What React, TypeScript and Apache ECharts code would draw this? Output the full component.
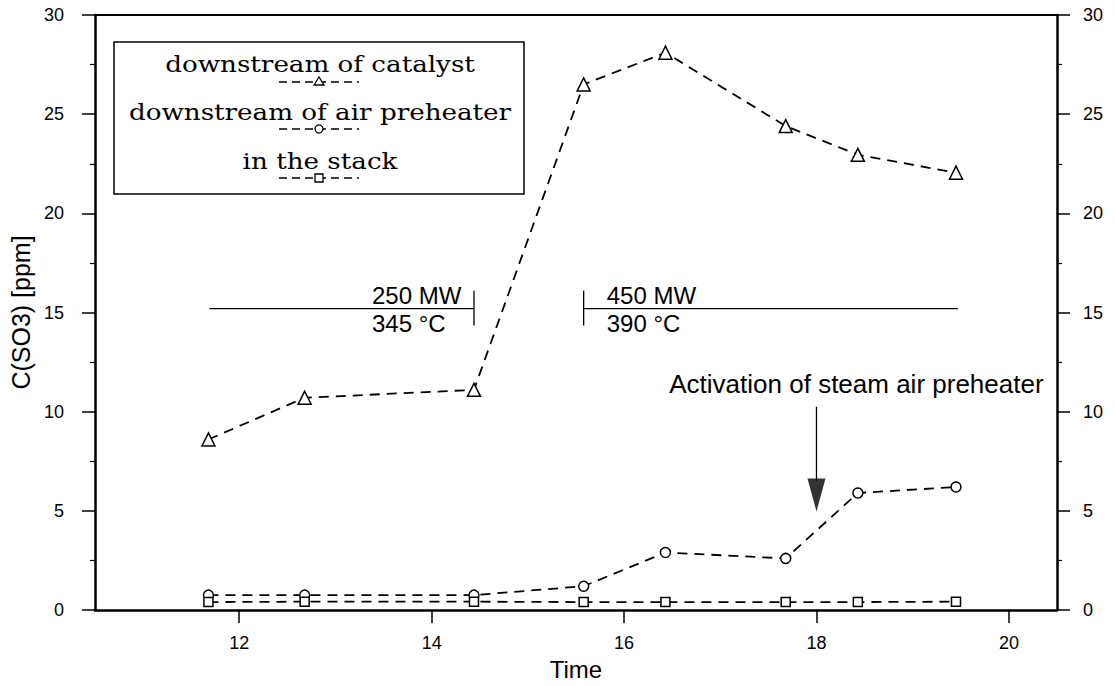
import React, { useEffect, useRef } from "react";
import * as echarts from "echarts";

// ---- data ----
const timeValues = [11.68, 12.68, 14.44, 15.58, 16.43, 17.68, 18.43, 19.45];
const catalyst = [8.6, 10.7, 11.1, 26.5, 28.1, 24.4, 22.95, 22.05];
const airPreheater = [0.75, 0.75, 0.75, 1.2, 2.9, 2.6, 5.9, 6.2];
const stack = [0.4, 0.42, 0.42, 0.4, 0.4, 0.4, 0.4, 0.42];

const xTicks = [12, 14, 16, 18, 20];
const seriesNames = ["downstream of catalyst", "downstream of air preheater", "in the stack"];

// annotation segments (data coordinates)
const load250Line = [[11.69, 15.2], [14.44, 15.2]];
const load250Tick = [[14.44, 14.35], [14.44, 16.1]];
const load450Tick = [[15.58, 14.35], [15.58, 16.1]];
const load450Line = [[15.58, 15.2], [19.47, 15.2]];
const arrowShaft = [[18.0, 10.25], [18.0, 6.5]];
const arrowHead = [[18.0, 5.8]];

// annotation texts: [text, x, y, align, verticalAlign, fontSize]
const annotations: [string, number, number, string, string, number][] = [
  ["250 MW", 13.38, 15.2, "left", "bottom", 24],
  ["345 °C", 13.38, 15.2, "left", "top", 24],
  ["450 MW", 15.82, 15.2, "left", "bottom", 24],
  ["390 °C", 15.82, 15.2, "left", "top", 24],
  ["Activation of steam air preheater", 16.47, 11.4, "left", "middle", 26],
];

const SANS = "'Liberation Sans', Arial, sans-serif";
const SERIF = "'DejaVu Serif', serif";

export default function App() {
  const ref = useRef<HTMLDivElement>(null);
  useEffect(() => {
    if (!ref.current) return;
    const chart = echarts.init(ref.current, null, { renderer: "svg" });

    const dashed = { color: "#000", width: 1.8, type: [10, 7] as any };
    const marker = { color: "#fff", borderColor: "#000", borderWidth: 1.5 };
    const solid = { color: "#000", width: 1.3, type: "solid" as any };

    const segment = (d: number[][]) => ({
      type: "line",
      data: d,
      symbol: "none",
      silent: true,
      lineStyle: solid,
      z: 2,
    });

    const yAxisCommon = (pos: "left" | "right", margin: number) => ({
      type: "value",
      position: pos,
      min: 0,
      max: 30,
      interval: 5,
      axisLine: { show: true, onZero: false, lineStyle: { color: "#000", width: 2.5 } },
      axisTick: { show: true, length: 13, lineStyle: { color: "#000", width: 1.5 } },
      minorTick: { show: true, splitNumber: 2, length: 5, lineStyle: { color: "#000", width: 1.2 } },
      axisLabel: { margin, fontSize: 18, color: "#000", fontFamily: SANS },
      splitLine: { show: false },
    });

    const option: any = {
      animation: false,
      backgroundColor: "#fff",
      grid: { left: 88, right: 58, top: 15, bottom: 74, containLabel: false },
      xAxis: [
        {
          type: "value",
          min: 10.5,
          max: 20.5,
          position: "bottom",
          axisLine: { show: true, onZero: false, lineStyle: { color: "#000", width: 2.5 } },
          axisTick: { show: true, customValues: xTicks, length: 13, lineStyle: { color: "#000", width: 1.5 } },
          axisLabel: { customValues: xTicks, margin: 24, fontSize: 18, color: "#000", fontFamily: SANS },
          splitLine: { show: false },
          name: "Time",
          nameLocation: "middle",
          nameGap: 47,
          nameTextStyle: { fontSize: 24, color: "#000", fontFamily: SANS },
        },
        {
          type: "value",
          min: 10.5,
          max: 20.5,
          position: "top",
          axisLine: { show: true, onZero: false, lineStyle: { color: "#000", width: 2 } },
          axisTick: { show: false },
          axisLabel: { show: false },
          splitLine: { show: false },
        },
      ],
      yAxis: [
        {
          ...yAxisCommon("left", 31),
          name: "C(SO3) [ppm]",
          nameLocation: "middle",
          nameGap: 52,
          nameTextStyle: { fontSize: 25, color: "#000", fontFamily: SANS },
        },
        yAxisCommon("right", 26),
      ],
      series: [
        {
          type: "line",
          name: seriesNames[0],
          data: timeValues.map((t, i) => [t, catalyst[i]]),
          symbol: "triangle",
          symbolSize: 13,
          lineStyle: dashed,
          itemStyle: marker,
          z: 3,
        },
        {
          type: "line",
          name: seriesNames[1],
          data: timeValues.map((t, i) => [t, airPreheater[i]]),
          symbol: "circle",
          symbolSize: 10,
          lineStyle: dashed,
          itemStyle: marker,
          z: 3,
        },
        {
          type: "line",
          name: seriesNames[2],
          data: timeValues.map((t, i) => [t, stack[i]]),
          symbol: "rect",
          symbolSize: 9,
          lineStyle: dashed,
          itemStyle: marker,
          z: 3,
        },
        segment(load250Line),
        segment(load250Tick),
        segment(load450Tick),
        segment(load450Line),
        segment(arrowShaft),
        {
          type: "scatter",
          data: arrowHead,
          symbol: "triangle",
          symbolRotate: 180,
          symbolSize: [18, 33],
          itemStyle: { color: "#000" },
          silent: true,
          z: 2,
        },
      ],
    };
    chart.setOption(option);

    // legend box (layout, pixels)
    const lx = 114, ly = 42, lw = 410, lh = 152;
    const cx = 320;
    const rows = [65, 113, 162];
    const samples = [82, 129, 178];
    const legendEls: any[] = [
      {
        type: "rect",
        shape: { x: lx, y: ly, width: lw, height: lh },
        style: { fill: "#fff", stroke: "#000", lineWidth: 1.5 },
        z: 10,
      },
    ];
    seriesNames.forEach((name, i) => {
      legendEls.push({
        type: "text",
        z: 11,
        x: cx,
        y: rows[i],
        scaleX: 1.19,
        style: {
          text: name,
          x: 0,
          y: 0,
          align: "center",
          verticalAlign: "middle",
          textAlign: "center",
          textVerticalAlign: "middle",
          fontSize: 22,
          fontFamily: SERIF,
          fill: "#000",
        },
      });
      legendEls.push({
        type: "line",
        z: 11,
        shape: { x1: 279, y1: samples[i], x2: 359, y2: samples[i] },
        style: { stroke: "#000", lineWidth: 1.6, lineDash: [8, 5] },
      });
      const my = samples[i];
      if (i === 0) {
        legendEls.push({
          type: "polygon",
          z: 12,
          shape: { points: [[319, my - 5], [314, my + 3], [324, my + 3]] },
          style: { fill: "#fff", stroke: "#000", lineWidth: 1.3 },
        });
      } else if (i === 1) {
        legendEls.push({
          type: "circle",
          z: 12,
          shape: { cx: 319, cy: my, r: 4 },
          style: { fill: "#fff", stroke: "#000", lineWidth: 1.3 },
        });
      } else {
        legendEls.push({
          type: "rect",
          z: 12,
          shape: { x: 315, y: my - 4, width: 8, height: 8 },
          style: { fill: "#fff", stroke: "#000", lineWidth: 1.3 },
        });
      }
    });

    const textEls = annotations.map(([text, x, y, align, va, fs]) => {
      const p = chart.convertToPixel({ xAxisIndex: 0, yAxisIndex: 0 }, [x, y]) as number[];
      const dy = va === "bottom" ? -1 : va === "top" ? 3 : 0;
      return {
        type: "text",
        z: 11,
        style: {
          text,
          x: p[0],
          y: p[1] + dy,
          align,
          verticalAlign: va,
          textAlign: align,
          textVerticalAlign: va,
          fontSize: fs,
          fontFamily: SANS,
          fill: "#000",
        },
      };
    });

    chart.setOption({ graphic: [...legendEls, ...textEls] });

    return () => chart.dispose();
  }, []);

  return (
    <div
      ref={ref}
      style={{ position: "fixed", left: 0, top: 0, width: 1115, height: 686, background: "#fff" }}
    />
  );
}
